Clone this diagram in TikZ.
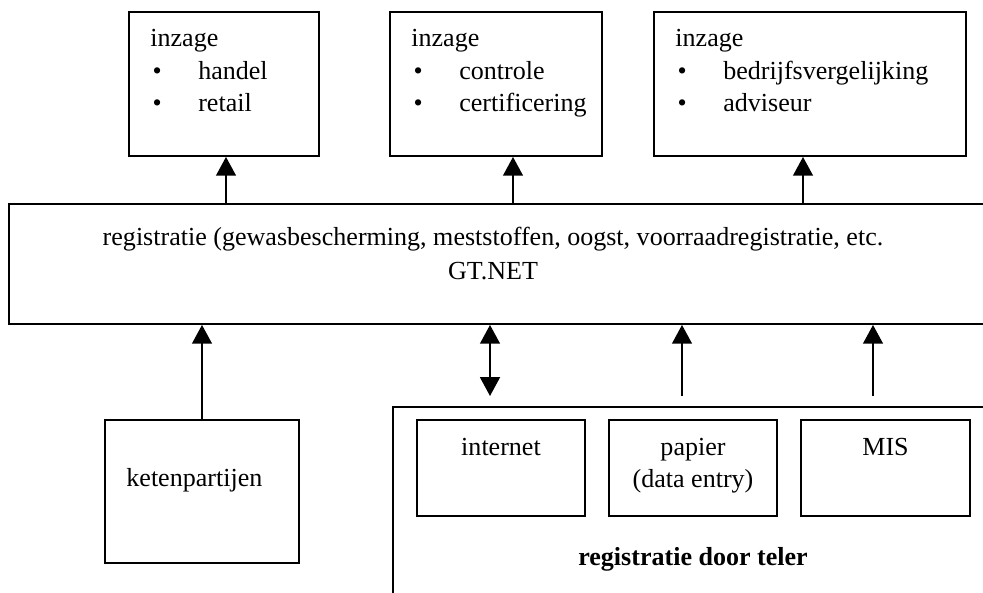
\documentclass[tikz,border=0pt]{standalone}
\usepackage{fontspec}
\setmainfont{Liberation Serif}
\usetikzlibrary{arrows.meta,positioning}

\tikzset{
  box/.style={draw,line width=0.9pt,inner sep=0pt},
  sz/.style 2 args={minimum width=#1*0.48pt,minimum height=#2*0.48pt},
  txt/.style={inner sep=0pt,font=\fontsize{12.5}{15.6}\selectfont},
  up/.style={-{Triangle[length=9pt,width=9.5pt]},line width=0.9pt},
  updown/.style={{Triangle[length=9pt,width=9.5pt]}-{Triangle[length=9pt,width=9.5pt]},line width=0.9pt},
}
\newcommand{\bul}{\makebox[23pt][l]{\hspace{1pt}\textbullet}}

\begin{document}
\begin{tikzpicture}[x=0.48pt,y=-0.48pt]
  \clip (0,0) rectangle (983,593);
  \fill[white] (0,0) rectangle (983,593);

  \node[box,sz={190}{144}] (inz1) at (224,84) {};
  \node[box,sz={212}{144}] (inz2) at (496,84) {};
  \node[box,sz={312}{144}] (inz3) at (810,84) {};
  \node[txt,anchor=base west] at (150,47)
    {\begin{tabular}[t]{@{}l@{}}inzage\\\bul handel\\\bul retail\end{tabular}};
  \node[txt,anchor=base west] at (411,47)
    {\begin{tabular}[t]{@{}l@{}}inzage\\\bul controle\\\bul certificering\end{tabular}};
  \node[txt,anchor=base west] at (675,47)
    {\begin{tabular}[t]{@{}l@{}}inzage\\\bul bedrijfsvergelijking\\\bul adviseur\end{tabular}};

  \node[box,sz={1001}{120}] (reg) at (509.5,264) {};
  \node[txt,anchor=base,font=\fontsize{12.5}{16}\selectfont] at (493,246)
    {\begin{tabular}[t]{@{}c@{}}registratie (gewasbescherming, meststoffen, oogst, voorraadregistratie, etc.\\GT.NET\end{tabular}};

  \node[box,sz={194}{143}] (keten) at (202,491.5) {};
  \node[txt,anchor=base west] at (126,486) {ketenpartijen};

  \node[box,sz={617}{213}] (teler) at (701.5,513.5) {};
  \node[box,sz={168}{96}] (inet) at (501,468) {};
  \node[box,sz={168}{96}] (pap) at (693,468) {};
  \node[box,sz={169}{96}] (mis) at (885.5,468) {};
  \node[txt,anchor=base] at (501,455) {internet};
  \node[txt,anchor=base] at (693,455)
    {\begin{tabular}[t]{@{}c@{}}papier\\(data entry)\end{tabular}};
  \node[txt,anchor=base] at (885.5,455) {MIS};
  \node[txt,anchor=base,font=\fontsize{12.5}{15.6}\selectfont\bfseries] at (693,565) {registratie door teler};

  \coordinate (e1) at (490,396);
  \coordinate (e2) at (682,396);
  \coordinate (e3) at (873,396);

  \draw[up] (reg.north -| 226,0) -- (inz1.south -| 226,0);
  \draw[up] (reg.north -| 513,0) -- (inz2.south -| 513,0);
  \draw[up] (reg.north -| 803,0) -- (inz3.south -| 803,0);
  \draw[up] (keten.north) -- (reg.south -| keten.north);
  \draw[updown] (e1) -- (reg.south -| e1);
  \draw[up] (e2) -- (reg.south -| e2);
  \draw[up] (e3) -- (reg.south -| e3);
\end{tikzpicture}
\end{document}
